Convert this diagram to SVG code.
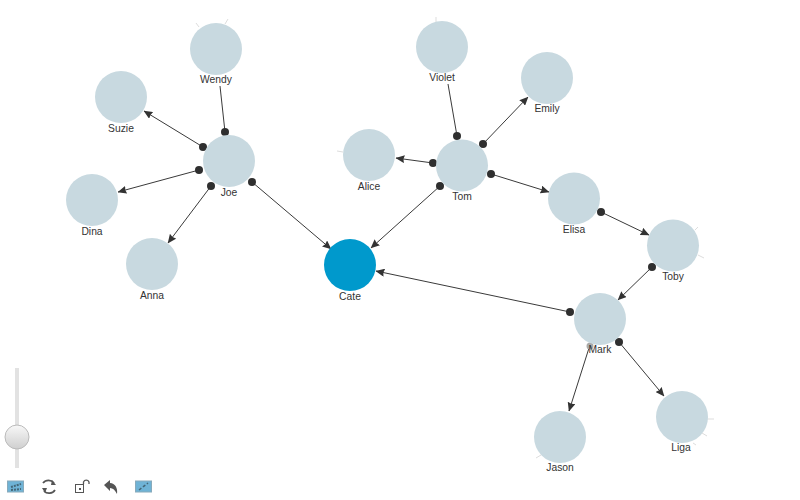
<svg xmlns="http://www.w3.org/2000/svg" width="800" height="500" viewBox="0 0 800 500">
<style>
.n{fill:#c8d9e0}
.t{font:10.3px "Liberation Sans",Arial,sans-serif;fill:#333;text-anchor:middle}
.c line{stroke:#3a3a3a;stroke-width:1;marker-end:url(#a)}
.c line.p{marker-end:none}
.c circle{fill:#2f2f2f}
.s{stroke:#ddd;stroke-width:1;fill:none}
</style>
<defs>
<marker id="a" viewBox="0 0 9 8" refX="8.500" refY="4" markerWidth="9" markerHeight="8" markerUnits="userSpaceOnUse" orient="auto"><path d="M0 0L9 4L0 8L1 4Z" fill="#333"/></marker>
<linearGradient id="k" x1="0" y1="0" x2="0" y2="1"><stop offset="0" stop-color="#f8f8f8"/><stop offset="1" stop-color="#cfcfcf"/></linearGradient>
</defs>
<rect width="800" height="500" fill="#fff"/>
<g class="s"><path d="M199 27L196 23M225 24L228 19"/><path d="M436 22L436 17"/><path d="M343 152L337 151"/><path d="M695 230L698 227M698 255L704 258"/><path d="M707 419L714 419M702 433L707 436M693 443L696 445"/><path d="M541 455L536 458"/></g>
<g id="connectors" class="c">
<line class="p" x1="220" y1="86" x2="225" y2="132"/><circle cx="225" cy="132" r="4"/>
<line x1="203" y1="147" x2="144" y2="111"/><circle cx="203" cy="147" r="4"/>
<line x1="199" y1="170" x2="118" y2="192"/><circle cx="199" cy="170" r="4"/>
<line x1="211" y1="186" x2="168" y2="243"/><circle cx="211" cy="186" r="4"/>
<line x1="252" y1="182" x2="331" y2="249"/><circle cx="252" cy="182" r="4"/>
<line class="p" x1="448" y1="84" x2="457" y2="136"/><circle cx="457" cy="136" r="4"/>
<line x1="483" y1="144" x2="528" y2="97"/><circle cx="483" cy="144" r="4"/>
<line x1="433" y1="163" x2="396" y2="158"/><circle cx="433" cy="163" r="4"/>
<line x1="440" y1="186" x2="371" y2="248"/><circle cx="440" cy="186" r="4"/>
<line x1="491" y1="174" x2="549" y2="192"/><circle cx="491" cy="174" r="4"/>
<line x1="601" y1="212" x2="649" y2="235"/><circle cx="601" cy="212" r="4"/>
<line x1="652" y1="267" x2="618" y2="300"/><circle cx="652" cy="267" r="4"/>
<line x1="570" y1="312" x2="376" y2="271"/><circle cx="570" cy="312" r="4"/>
<line x1="589" y1="348" x2="569" y2="411"/><circle cx="590" cy="346" r="3.500" style="fill:#aaa"/>
<line x1="619" y1="342" x2="664" y2="396"/><circle cx="619" cy="342" r="4"/>
</g>
<g id="wendy"><circle class="n" cx="216" cy="49" r="26"/><text class="t" x="216" y="83">Wendy</text></g>
<g id="suzie"><circle class="n" cx="121" cy="97" r="26"/><text class="t" x="121" y="132">Suzie</text></g>
<g id="joe"><circle class="n" cx="229" cy="161" r="26"/><text class="t" x="229" y="196">Joe</text></g>
<g id="dina"><circle class="n" cx="92" cy="200" r="26"/><text class="t" x="92" y="235">Dina</text></g>
<g id="anna"><circle class="n" cx="152" cy="264" r="26"/><text class="t" x="152" y="299">Anna</text></g>
<g id="cate"><circle cx="350" cy="265" r="26" fill="#0099cc"/><text class="t" x="350" y="300">Cate</text></g>
<g id="alice"><circle class="n" cx="369" cy="155" r="26"/><text class="t" x="369" y="190">Alice</text></g>
<g id="tom"><circle class="n" cx="462" cy="165.500" r="26"/><text class="t" x="462" y="200">Tom</text></g>
<g id="violet"><circle class="n" cx="442" cy="47" r="26"/><text class="t" x="442" y="81">Violet</text></g>
<g id="emily"><circle class="n" cx="547" cy="78" r="26"/><text class="t" x="547" y="112">Emily</text></g>
<g id="elisa"><circle class="n" cx="574" cy="198.500" r="26"/><text class="t" x="574" y="233">Elisa</text></g>
<g id="toby"><circle class="n" cx="673" cy="245.500" r="26"/><text class="t" x="673" y="280">Toby</text></g>
<g id="mark"><circle class="n" cx="600" cy="319" r="26"/><text class="t" x="600" y="353">Mark</text></g>
<g id="jason"><circle class="n" cx="560" cy="437" r="26"/><text class="t" x="560" y="471">Jason</text></g>
<g id="liga"><circle class="n" cx="682" cy="417" r="26"/><text class="t" x="681" y="451">Liga</text></g>
<g id="slider"><rect x="15" y="368" width="4" height="100" fill="#e2e2e2"/><circle cx="17" cy="437" r="12" fill="url(#k)" stroke="#bbb"/></g>
<g id="toolbar">
<rect x="7.500" y="481" width="16" height="11" fill="#6fb3d6" stroke="#8ab"/><path d="M11 487L21 484M11 490L21 489" stroke="#467" stroke-width="2" stroke-dasharray="2 1"/>
<path d="M43 483A7 7 0 0 1 54 483M55 490A7 7 0 0 1 44 491" fill="none" stroke="#555" stroke-width="1.800"/><path d="M52 480L56 485L51 485ZM45 493L42 488L47 488Z" fill="#555"/>
<rect x="75.500" y="484.500" width="8" height="8" fill="none" stroke="#555"/><rect x="79" y="488" width="2" height="2" fill="#555"/><path d="M83.500 484V482A3 3 0 0 1 89 482V484" fill="none" stroke="#555" stroke-width="1.300"/>
<path d="M104 485L110 480V483C115 483 118 488 117 494C115 490 113 488 110 488V491Z" fill="#555"/>
<rect x="135.500" y="481" width="16" height="11" fill="#6fb3d6" stroke="#8ab"/><path d="M139 490L148 483" stroke="#467" stroke-width="1.500" stroke-dasharray="3 2"/>
</g>
</svg>
